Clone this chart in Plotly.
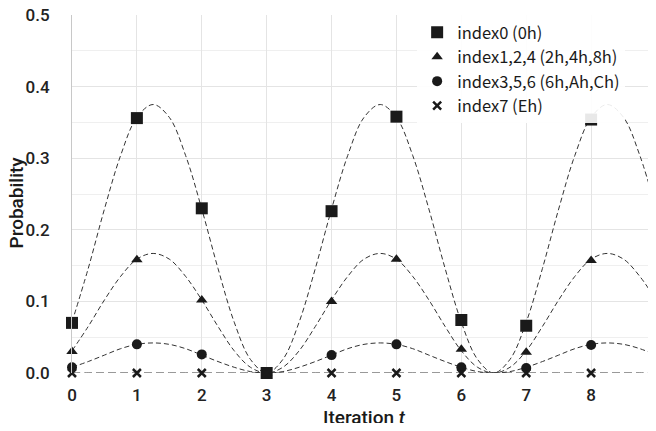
import plotly.graph_objects as go

# Measured probabilities at integer iterations
iterations = [0, 1, 2, 3, 4, 5, 6, 7, 8, 9]
p_index0 = [0.070, 0.356, 0.230, 0.000, 0.226, 0.358, 0.074, 0.066, 0.354, 0.236]
p_index124 = [0.030, 0.158, 0.102, 0.000, 0.100, 0.159, 0.033, 0.029, 0.157, 0.105]
p_index356 = [0.008, 0.040, 0.026, 0.000, 0.025, 0.040, 0.008, 0.007, 0.039, 0.026]
p_index7 = [0.0] * 10

# Dashed theoretical curves, read at quarter steps
t_curve = [i * 0.25 for i in range(37)]
c_index0 = [0.071, 0.146, 0.229, 0.304, 0.357, 0.375, 0.357, 0.304, 0.229, 0.146, 0.071, 0.019,
            0.000, 0.019, 0.071, 0.146, 0.229, 0.304, 0.357, 0.375, 0.357, 0.304, 0.229, 0.146,
            0.071, 0.019, 0.000, 0.019, 0.071, 0.146, 0.229, 0.304, 0.357, 0.375, 0.357, 0.304, 0.229]
c_index124 = [0.031, 0.065, 0.102, 0.135, 0.159, 0.167, 0.159, 0.135, 0.102, 0.065, 0.031, 0.008,
              0.000, 0.008, 0.031, 0.065, 0.102, 0.135, 0.159, 0.167, 0.159, 0.135, 0.102, 0.065,
              0.031, 0.008, 0.000, 0.008, 0.031, 0.065, 0.102, 0.135, 0.159, 0.167, 0.159, 0.135, 0.102]
c_index356 = [0.008, 0.016, 0.025, 0.034, 0.040, 0.042, 0.040, 0.034, 0.025, 0.016, 0.008, 0.002,
              0.000, 0.002, 0.008, 0.016, 0.025, 0.034, 0.040, 0.042, 0.040, 0.034, 0.025, 0.016,
              0.008, 0.002, 0.000, 0.002, 0.008, 0.016, 0.025, 0.034, 0.040, 0.042, 0.040, 0.034, 0.025]
c_index7 = [0.0] * 37

names = ["index0 (0h)", "index1,2,4 (2h,4h,8h)", "index3,5,6 (6h,Ah,Ch)", "index7 (Eh)"]
symbols = ["square", "triangle-up", "circle", "x-thin"]
sizes = [12, 10, 10, 8]

ink = "#1a1a1a"
fig = go.Figure()

for curve, dash in [(c_index0, "5px,3px"), (c_index124, "5px,3px"), (c_index356, "5px,3px"), (c_index7, "8px,4px")]:
    fig.add_trace(go.Scatter(x=t_curve, y=curve, mode="lines", showlegend=False,
                             line=dict(color="#333333", width=1, dash=dash, shape="spline"),
                             hoverinfo="skip", cliponaxis=False))

for vals, name, sym, sz in zip([p_index0, p_index124, p_index356, p_index7], names, symbols, sizes):
    marker = dict(symbol=sym, size=sz, color=ink)
    if sym == "x-thin":
        marker["line"] = dict(color=ink, width=2.5)
    fig.add_trace(go.Scatter(x=iterations, y=vals, mode="markers", name=name,
                             marker=marker, cliponaxis=False))

tick_font = dict(family="Roboto", size=17, color="#222222", weight=500)
title_font = dict(family="Roboto", size=19, color=ink, weight=500)
fig.update_layout(
    width=648, height=415,
    margin=dict(l=64, r=0, t=7, b=50),
    paper_bgcolor="white", plot_bgcolor="white",
    showlegend=True,
    legend=dict(x=0.591, y=1.0, xanchor="left", yanchor="top",
                bgcolor="rgba(255,255,255,0.9)",
                font=dict(family="Noto Sans CJK JP", size=16.5, color=ink),
                tracegroupgap=0, itemwidth=30),
    xaxis=dict(range=[0, 9], dtick=1, tick0=0, showgrid=True, gridcolor="#e4e4e4", gridwidth=1,
               zeroline=False, showline=False, tickfont=tick_font, ticklabelstandoff=10,
               automargin=False, ticklabeloverflow="allow"),
    yaxis=dict(range=[0, 0.5], dtick=0.1, tick0=0, tickformat=".1f", showgrid=True,
               gridcolor="#e4e4e4", gridwidth=1, zeroline=False, showline=True, linecolor="#c8c8c8",
               minor=dict(dtick=0.05, showgrid=True, gridcolor="#efefef"),
               tickfont=tick_font, ticklabelstandoff=18, automargin=False,
               ticklabeloverflow="allow"),
    annotations=[
        dict(text="Probability", textangle=-90, xref="paper", yref="paper",
             x=-0.095, y=0.475, xanchor="center", yanchor="middle",
             showarrow=False, font=title_font),
        dict(text="Iteration <i>t</i>", xref="paper", yref="paper",
             x=0.5, y=-0.086, xanchor="center", yanchor="top",
             showarrow=False, font=title_font),
    ],
)

fig.write_html("out.html")
